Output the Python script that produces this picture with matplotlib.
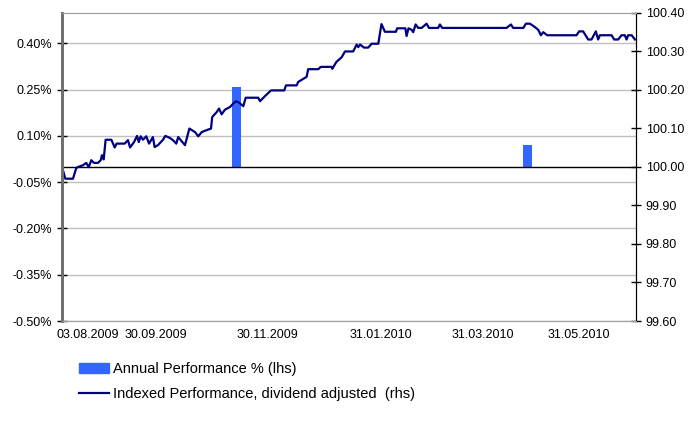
import matplotlib.pyplot as plt
from matplotlib.patches import Patch
from matplotlib.lines import Line2D
from matplotlib.ticker import FuncFormatter
from matplotlib.transforms import ScaledTranslation

plt.rcParams['font.family'] = ['Liberation Sans', 'DejaVu Sans']

# indexed performance, dividend adjusted (rhs) - observation number / index level
obs = [0, 1.9, 6.3, 8.2, 10.1, 12.0, 13.9, 15.3, 16.8, 18.3, 20.6, 22.2, 22.9, 23.9,
       25.0, 28.3, 30.2, 31.3, 35.9, 37.8, 39.0, 41.3, 43.0, 44.0, 45.1, 46.4, 48.3,
       49.9, 52.1, 53.1, 55.0, 57.9, 59.2, 61.7, 63.6, 65.5, 66.6, 68.6, 70.5, 73.0,
       76.2, 78.1, 80.1, 82.9, 85.4, 86.1, 88.7, 90.0, 91.5, 93.4, 96.3, 98.2, 99.7,
       101.6, 103.9, 105.3, 112.5, 113.5, 116.3, 119.8, 127.4, 128.4, 134.5, 135.4,
       138.3, 140.2, 141.1, 146.9, 148.3, 154.6, 154.9, 157.3, 160.3, 162.2, 166.9,
       168.9, 169.8, 170.8, 173.1, 175.5, 177.5, 181.3, 183.1, 185.1, 191.4, 192.1,
       196.8, 197.5, 198.6, 200.4, 201.3, 202.7, 204.2, 206.1, 209.0, 210.3, 215.6,
       216.6, 217.9, 254.8, 257.3, 258.6, 264.4, 265.9, 268.2, 271.1, 273.0, 274.5,
       275.8, 278.1, 294.9, 296.4, 298.7, 301.6, 303.5, 306.0, 307.3, 308.3, 315.0,
       316.5, 318.8, 320.7, 322.6, 323.6, 324.5, 326.5, 328.4]
nav = [100.000, 99.969, 99.969, 99.997, 100.001, 100.004, 100.010, 99.999, 100.017,
       100.010, 100.010, 100.017, 100.030, 100.019, 100.070, 100.070, 100.050, 100.060,
       100.060, 100.069, 100.050, 100.064, 100.080, 100.064, 100.079, 100.070, 100.079,
       100.060, 100.077, 100.051, 100.056, 100.070, 100.080, 100.075, 100.069, 100.060,
       100.077, 100.066, 100.056, 100.099, 100.090, 100.079, 100.090, 100.095, 100.099,
       100.129, 100.142, 100.151, 100.136, 100.148, 100.155, 100.164, 100.170, 100.166,
       100.157, 100.179, 100.179, 100.170, 100.183, 100.198, 100.198, 100.211, 100.211,
       100.220, 100.228, 100.233, 100.253, 100.253, 100.259, 100.259, 100.254, 100.272,
       100.284, 100.299, 100.299, 100.317, 100.310, 100.317, 100.309, 100.309, 100.319,
       100.319, 100.370, 100.350, 100.350, 100.359, 100.359, 100.339, 100.359, 100.355,
       100.349, 100.369, 100.360, 100.360, 100.371, 100.360, 100.360, 100.369, 100.360,
       100.360, 100.369, 100.360, 100.360, 100.371, 100.371, 100.362, 100.355, 100.341,
       100.349, 100.341, 100.341, 100.351, 100.351, 100.330, 100.330, 100.351, 100.330,
       100.341, 100.341, 100.330, 100.330, 100.341, 100.341, 100.330, 100.341, 100.341,
       100.330]

# annual performance % (lhs)
bar_obs = [100, 267]
bar_vals = [0.26, 0.07]

tick_pos = [0, 54, 118, 183, 241, 296]
tick_labels = ['03.08.2009', '30.09.2009', '30.11.2009', '31.01.2010', '31.03.2010', '31.05.2010']

fig = plt.figure(figsize=(7, 4.29), dpi=100)
ax = fig.add_axes([62 / 700, 1 - 321 / 429, 574 / 700, (321 - 12.5) / 429])
ax2 = ax.twinx()

# left axis: bars + grid
ax.set_ylim(-0.5, 0.5)
ax.set_yticks([-0.5, -0.35, -0.2, -0.05, 0.1, 0.25, 0.4])
ax.yaxis.set_major_formatter(FuncFormatter(lambda v, p: '%.2f%%' % v))
ax.grid(axis='y', color='#c0c0c0', linewidth=1)
ax.set_axisbelow(True)
ax.bar(bar_obs, bar_vals, width=5, color='#3366ff', zorder=2)
ax.axhline(0, color='black', linewidth=1, zorder=3)
ax.set_xlim(0, 329)
ax.set_xticks(tick_pos)
ax.set_xticklabels(tick_labels)
ax.tick_params(axis='x', length=0, labelsize=9, pad=6)
ax.tick_params(axis='y', direction='inout', length=7, labelsize=9, width=1)

# right axis: line
ax2.plot(obs, nav, color='#000080', linewidth=1.6)
ax2.set_ylim(99.6, 100.4)
ax2.set_yticks([99.6 + 0.1 * i for i in range(9)])
ax2.yaxis.set_major_formatter(FuncFormatter(lambda v, p: '%.2f' % v))
ax2.tick_params(axis='y', direction='inout', length=7, labelsize=9, width=1)

for a in (ax, ax2):
    a.spines['top'].set_color('#a0a0a0')
    a.spines['bottom'].set_color('#a0a0a0')
    a.spines['left'].set_color('#707070')
    a.spines['left'].set_linewidth(2)
    a.spines['right'].set_color('black')

handles = [Patch(color='#3366ff'), Line2D([0], [0], color='#000080', linewidth=1.6)]
labels = ['Annual Performance % (lhs)', 'Indexed Performance, dividend adjusted  (rhs)']
fig.legend(handles, labels, loc='upper left', bbox_to_anchor=(66 / 700, 1 - 349 / 429),
           frameon=False, fontsize=10.5, handlelength=2.05, handletextpad=0.3,
           labelspacing=0.75)

# first date label sits flush with the axis start, nudged a little left
fig.canvas.draw()
first = ax.xaxis.get_major_ticks()[0].label1
first.set_horizontalalignment('left')
first.set_transform(first.get_transform() + ScaledTranslation(-0.05, 0, fig.dpi_scale_trans))

fig.savefig('out.png')
